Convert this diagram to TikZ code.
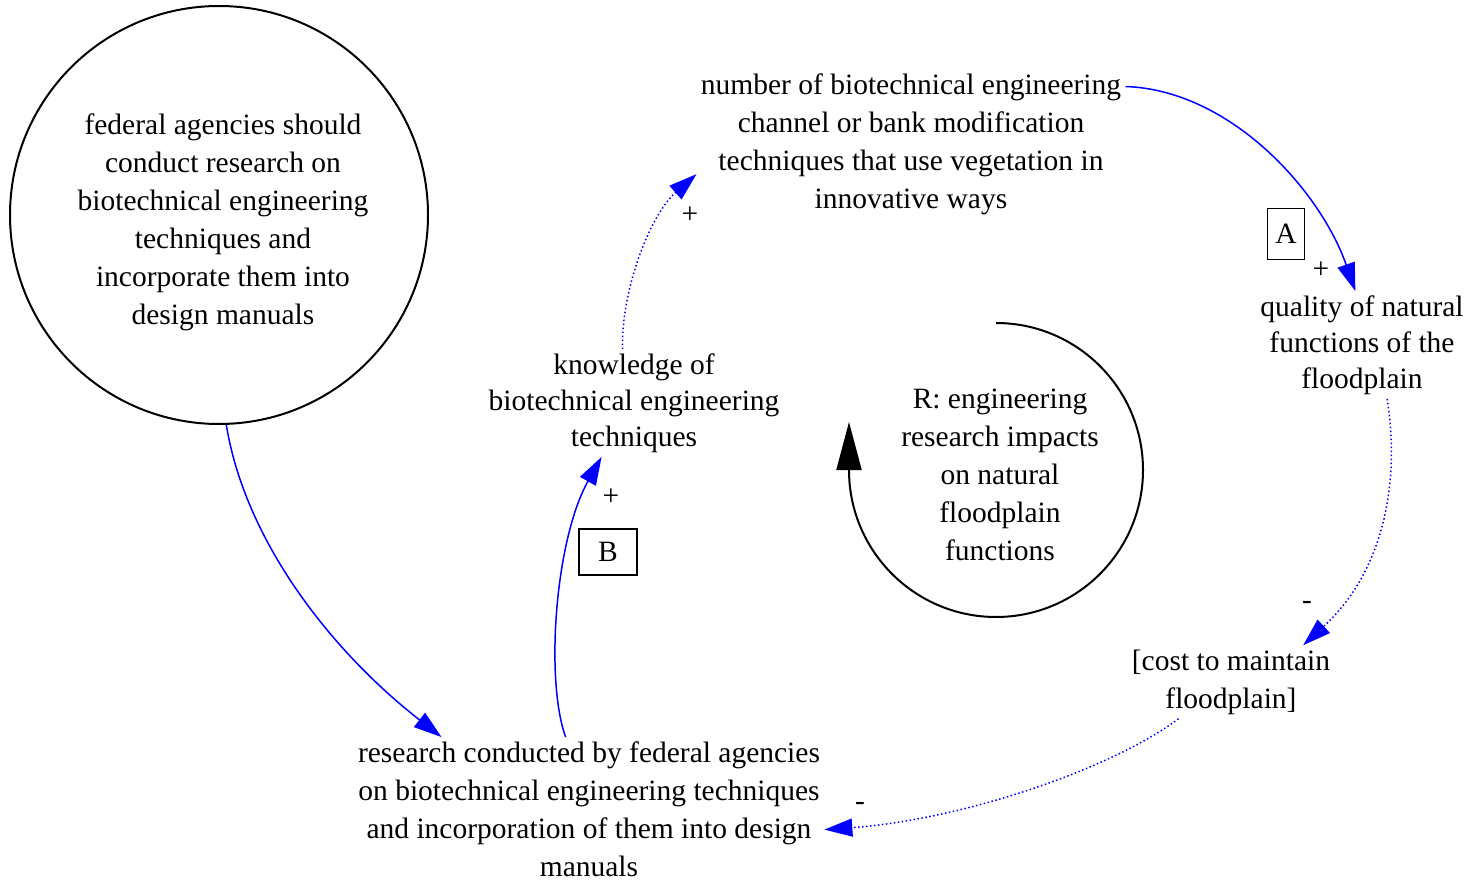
\documentclass[tikz,border=0pt]{standalone}
\usepackage{fontspec}
\setmainfont{Liberation Serif}
\usetikzlibrary{arrows.meta}

\begin{document}
\begin{tikzpicture}[x=0.5pt, y=0.5pt,
    lbl/.style={font=\fontsize{14.75}{19}\selectfont, align=center, inner sep=2pt},
    tightlbl/.style={lbl, font=\fontsize{14.75}{18}\selectfont},
    link/.style={blue, line width=0.75pt, -{Triangle[length=14pt, width=9pt]}},
    dotlink/.style={link, dash pattern=on 0.75pt off 1.25pt},
    tag/.style={draw, line width=0.75pt, font=\fontsize{14.75}{19}\selectfont, inner sep=0pt}]
    \useasboundingbox (0,0) rectangle (1468,-882);

    \node[circle, draw, line width=1pt, minimum size=209pt, inner sep=0pt] (fed) at (219,-215) {};
    \node[lbl] (fedtext) at (223,-222)
        {federal agencies should\\conduct research on\\biotechnical engineering\\techniques and\\incorporate them into\\design manuals};
    \node[lbl] (number) at (911,-144) {number of biotechnical engineering\\channel or bank modification\\techniques that use vegetation in\\innovative ways};
    \node[tightlbl] (know) at (634,-403) {knowledge of\\biotechnical engineering\\techniques};
    \node[tightlbl] (quality) at (1362,-345) {quality of natural\\functions of the\\floodplain};
    \node[lbl] (cost) at (1231,-682) {[cost to maintain\\floodplain]};
    \node[lbl] (research) at (589,-809) {research conducted by federal agencies\\on biotechnical engineering techniques\\and incorporation of them into design\\manuals};
    \node[lbl] (loopname) at (1000,-475) {R: engineering\\research impacts\\on natural\\floodplain\\functions};

    \draw[link] (fed.-88.6) .. controls (245,-540) and (330,-650) .. (research.154.2);
    \draw[link] (research.108.9) .. controls (545,-680) and (555,-540) .. (know.-121.3);
    \draw[dotlink] (know.102.9) .. controls (621,-290) and (650,-215) .. (number.188.6);
    \draw[link] (number.15.6) .. controls (1230,-90) and (1320,-190) .. (quality.97.4);
    \draw[dotlink] (quality.-65.1) .. controls (1400,-480) and (1385,-570) .. (cost.27.8);
    \draw[dotlink] (cost.215.2) .. controls (1110,-770) and (960,-820) .. (research.-5.3);

    \node[lbl] (signK) at (690,-215) {+};
    \node[lbl] (signQ) at (1321,-270) {+};
    \node[lbl] (signB) at (611,-497) {+};
    \node[lbl] (signC) at (1307,-605) {-};
    \node[lbl] (signR) at (860,-806) {-};
    \node[tag, minimum width=18.5pt, minimum height=25.5pt] (tagA) at (1286,-234) {A};
    \node[tag, minimum width=29pt, minimum height=23pt] (tagB) at (608,-552) {B};

    \draw[line width=1pt, -{Triangle[length=24pt, width=12.5pt]}] (996,-323)
        arc[start angle=90, end angle=-180, radius=147] -- ++(0,48);
\end{tikzpicture}
\end{document}
